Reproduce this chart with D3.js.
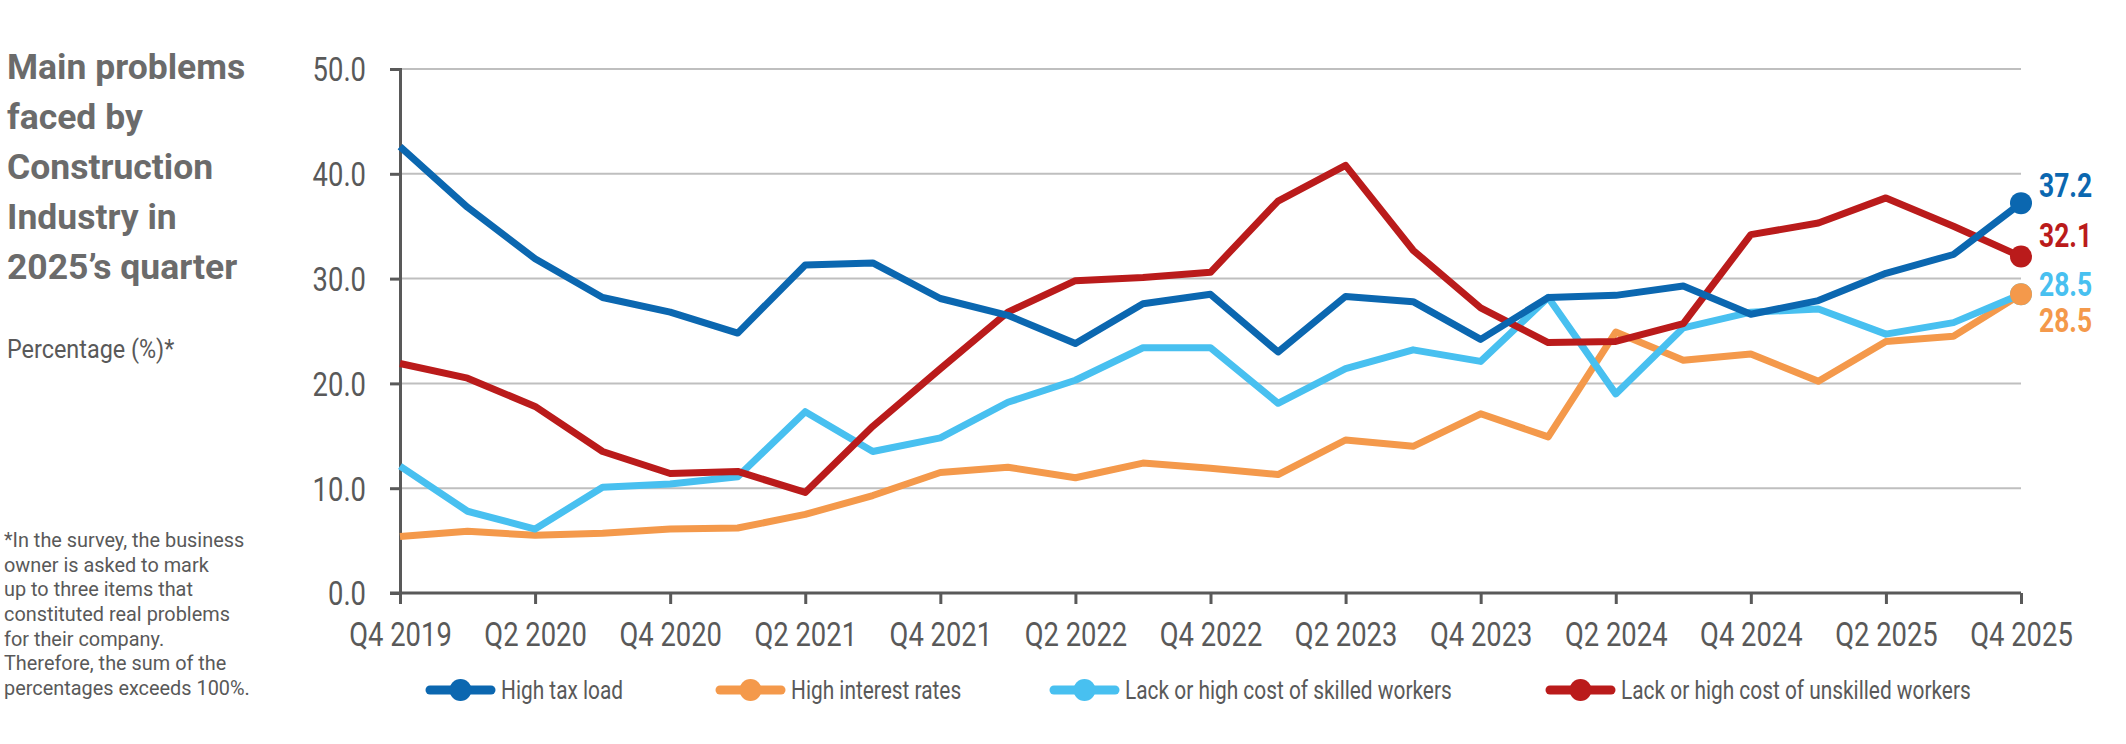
<!DOCTYPE html>
<html>
<head>
<meta charset="utf-8">
<script src="https://cdn.jsdelivr.net/npm/d3@7"></script>
<style>
  body { margin: 0; background: #fff; }
  svg text { font-family: "Roboto", "Noto Sans", sans-serif; }
</style>
</head>
<body>
<svg id="chart" width="2126" height="744"></svg>
<script>
// quarters Q4 2019 .. Q4 2025
var quarters = ['Q4 2019','Q1 2020','Q2 2020','Q3 2020','Q4 2020','Q1 2021','Q2 2021','Q3 2021','Q4 2021',
  'Q1 2022','Q2 2022','Q3 2022','Q4 2022','Q1 2023','Q2 2023','Q3 2023','Q4 2023',
  'Q1 2024','Q2 2024','Q3 2024','Q4 2024','Q1 2025','Q2 2025','Q3 2025','Q4 2025'];

var taxLoad = [42.6,36.8,31.9,28.2,26.8,24.8,31.3,31.5,28.1,26.5,23.8,27.6,28.5,23.0,28.3,27.8,24.2,
  28.2,28.4,29.3,26.6,27.9,30.5,32.3,37.2];
var interestRates = [5.4,5.9,5.5,5.7,6.1,6.2,7.5,9.3,11.5,12.0,11.0,12.4,11.9,11.3,14.6,14.0,17.1,
  14.9,24.9,22.2,22.8,20.2,24.0,24.5,28.5];
var skilled = [12.1,7.8,6.1,10.1,10.4,11.1,17.3,13.5,14.8,18.2,20.3,23.4,23.4,18.1,21.4,23.2,22.1,
  28.2,19.0,25.3,26.8,27.1,24.7,25.8,28.5];
var unskilled = [21.9,20.5,17.8,13.5,11.4,11.6,9.6,15.9,21.4,26.8,29.8,30.1,30.6,37.4,40.8,32.7,27.2,
  23.9,24.0,25.7,34.2,35.3,37.7,35.0,32.1];

var seriesNames = ['High tax load','High interest rates','Lack or high cost of skilled workers','Lack or high cost of unskilled workers'];
var yTicks = [0, 10, 20, 30, 40, 50];
var xTickLabels = ['Q4 2019','Q2 2020','Q4 2020','Q2 2021','Q4 2021','Q2 2022','Q4 2022','Q2 2023','Q4 2023',
  'Q2 2024','Q4 2024','Q2 2025','Q4 2025'];

var titleLines = ['Main problems','faced by','Construction','Industry in','2025\u2019s quarter'];
var noteLines = ['*In the survey, the business','owner is asked to mark','up to three items that',
  'constituted real problems','for their company.','Therefore, the sum of the','percentages exceeds 100%.'];

function main() {
  var svg = d3.select('#chart');
  var left = 400, right = 2021, top = 69, bottom = 593;
  var narrow = 0.83; // squeeze Roboto toward the condensed face of the original

  var colors = ['#0b67b0', '#f4994b', '#48c0f0', '#ba1b1b'];
  var labelDy = [-6, 38, 2, -10]; // end label offsets so they don't collide
  var series = [taxLoad, interestRates, skilled, unskilled];

  var x = d3.scalePoint().domain(quarters).range([left, right]);
  var y = d3.scaleLinear().domain([0, 50]).range([bottom, top]);

  // gridlines
  svg.append('g').selectAll('line')
    .data(yTicks.filter(function(d) { return d > 0; }))
    .enter().append('line')
    .attr('x1', left).attr('x2', right)
    .attr('y1', function(d) { return y(d); })
    .attr('y2', function(d) { return y(d); })
    .attr('stroke', '#bfbfbf').attr('stroke-width', 2);

  // y axis
  var yAxis = svg.append('g')
    .attr('transform', 'translate(' + left + ',0)')
    .call(d3.axisLeft(y).tickValues(yTicks).tickFormat(d3.format('.1f')).tickSize(10));
  yAxis.select('.domain').attr('stroke', '#595959').attr('stroke-width', 3);
  yAxis.selectAll('.tick line').attr('stroke', '#595959').attr('stroke-width', 3);
  yAxis.selectAll('text')
    .attr('x', -34 / narrow).attr('dy', '0.36em')
    .attr('transform', 'scale(' + narrow + ',1)')
    .attr('fill', '#595959').style('font-size', '33px');

  // x axis
  var xAxis = svg.append('g')
    .attr('transform', 'translate(0,' + bottom + ')')
    .call(d3.axisBottom(x).tickValues(xTickLabels).tickSize(11).tickPadding(19));
  xAxis.select('.domain').attr('stroke', '#595959').attr('stroke-width', 3)
    .attr('d', 'M' + (left - 10) + ',0H' + right);
  xAxis.selectAll('.tick line').attr('stroke', '#595959').attr('stroke-width', 3);
  xAxis.selectAll('text')
    .attr('transform', 'scale(' + narrow + ',1)')
    .attr('fill', '#595959').style('font-size', '33px').attr('dy', '0.71em');

  var line = d3.line()
    .x(function(d, i) { return x(quarters[i]); })
    .y(function(d) { return y(d); });

  var order = [1, 2, 3, 0];
  order.forEach(function(k) {
    svg.append('path')
      .datum(series[k])
      .attr('d', line)
      .attr('fill', 'none')
      .attr('stroke', colors[k])
      .attr('stroke-width', 7)
      .attr('stroke-linejoin', 'round');
  });

  // end dots: light blue first so orange covers it
  [2, 1, 3, 0].forEach(function(k) {
    var last = series[k].length - 1;
    var cx = x(quarters[last]), cy = y(series[k][last]);
    svg.append('circle')
      .attr('cx', cx).attr('cy', cy)
      .attr('r', 11)
      .attr('fill', colors[k]);
    svg.append('text')
      .attr('transform', 'translate(' + (cx + 18) + ',' + (cy + labelDy[k]) + ') scale(0.8,1)')
      .attr('fill', colors[k])
      .style('font-size', '33px')
      .style('font-weight', 'bold')
      .text(d3.format('.1f')(series[k][last]));
  });

  // title
  svg.append('text')
    .attr('transform', 'translate(7,79)')
    .attr('fill', '#6b6b6b')
    .style('font-size', '35.5px').style('font-weight', 'bold')
    .selectAll('tspan').data(titleLines).enter().append('tspan')
    .attr('x', 0).attr('dy', function(d, i) { return i === 0 ? 0 : 50; })
    .text(function(d) { return d; });

  svg.append('text')
    .attr('transform', 'translate(7,358) scale(0.9,1)')
    .attr('fill', '#595959')
    .style('font-size', '26px')
    .text('Percentage (%)*');

  svg.append('text')
    .attr('transform', 'translate(4,547) scale(0.97,1)')
    .attr('fill', '#595959')
    .style('font-size', '20.5px')
    .selectAll('tspan').data(noteLines).enter().append('tspan')
    .attr('x', 0).attr('dy', function(d, i) { return i === 0 ? 0 : 24.7; })
    .text(function(d) { return d; });

  // legend
  var legendX = [426, 716, 1050, 1546];
  var legendY = 690;
  var lg = svg.append('g').selectAll('g')
    .data(seriesNames)
    .enter().append('g')
    .attr('transform', function(d, i) { return 'translate(' + legendX[i] + ',' + legendY + ')'; });
  lg.append('line')
    .attr('x1', 4).attr('x2', 65).attr('y1', 0).attr('y2', 0)
    .attr('stroke', function(d, i) { return colors[i]; })
    .attr('stroke-width', 9).attr('stroke-linecap', 'round');
  lg.append('circle')
    .attr('cx', 34.5).attr('cy', 0).attr('r', 11)
    .attr('fill', function(d, i) { return colors[i]; });
  lg.append('text')
    .attr('transform', 'translate(75,0) scale(0.835,1)')
    .attr('dy', '0.35em')
    .attr('fill', '#595959')
    .style('font-size', '25px')
    .text(function(d) { return d; });
}
main();
</script>
</body>
</html>
